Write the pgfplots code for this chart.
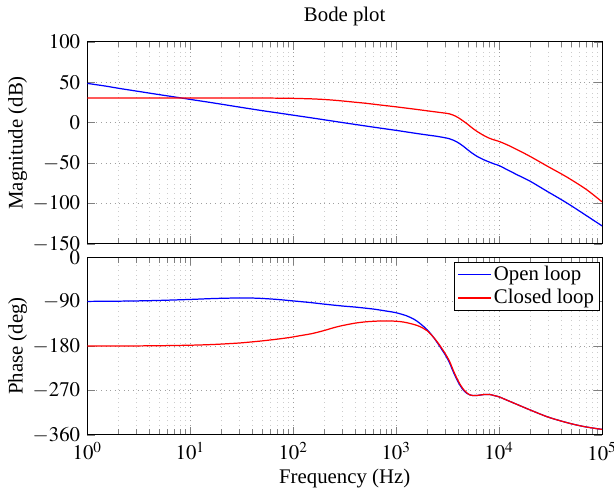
\documentclass[11pt,border=0pt]{standalone}
\usepackage{mathptmx}
\usepackage{fontspec}
\setmainfont{Liberation Serif}
\usepackage{pgfplots}
\pgfplotsset{compat=1.18}
\usetikzlibrary{calc}

\begin{document}
\begin{tikzpicture}
% magnitude
\begin{axis}[name=mag, scale only axis, width=271pt, height=106.4pt,
  xmode=log, xmin=1, xmax=1e5,
  grid=both, major grid style={dotted,gray!75}, minor grid style={dotted,gray!40},
  ymin=-150, ymax=100, ytick={-150,-100,...,100},
  xticklabels={},
  ylabel={Magnitude (dB)}, ylabel shift=-4.5pt,
  title={Bode plot}, title style={yshift=-1.5pt}]
\addplot[blue, line width=0.65pt, smooth] coordinates {
(1,48.5)(1.5,45.2)(2,42.5)(3,39)(5,34.6)(7,31.8)(10,28.7)(15,25.3)(20,22.8)
(30,19.2)(50,14.8)(70,12.1)(100,9.2)(150,5.9)(200,3.5)(300,0.1)(500,-4.1)(700,-6.8)
(1000,-9.6)(1500,-13)(2000,-15.3)(2500,-17)(3000,-18.8)(3300,-20)(3600,-21.8)
(4000,-24.8)(4500,-29.3)(5000,-34)(5500,-38)(6000,-41.2)(7000,-45.6)(8000,-48.7)
(9000,-51.2)(10000,-53.2)(12000,-58.3)(15000,-64.6)(20000,-72.5)(30000,-85.8)
(40000,-95.1)(50000,-102.7)(70000,-114.8)(100000,-127.8)};
\addplot[red, line width=0.65pt, smooth] coordinates {
(1,30.5)(10,30.5)(30,30.5)(50,30.4)(80,30.2)(100,30)(150,29.4)(200,28.6)(250,27.7)
(300,26.8)(400,25.2)(500,24)(700,21.8)(1000,19.5)(1500,16.7)(2000,14.6)(2500,13)
(3000,11.7)(3300,10.8)(3600,9.2)(4000,6.2)(4500,1.8)(5000,-2.5)(5500,-6.8)
(6000,-10.3)(7000,-15.5)(8000,-19.2)(9000,-21.5)(10000,-23.3)(12000,-27.5)
(15000,-33.5)(20000,-41.8)(30000,-54.5)(45000,-67)(70000,-82.5)(100000,-98)};
\end{axis}
% phase
\begin{axis}[name=ph, at={($(mag.south west)+(0,-7.06pt)$)}, anchor=north west,
  scale only axis, width=271pt, height=93.5pt,
  xmode=log, xmin=1, xmax=1e5,
  grid=both, major grid style={dotted,gray!75}, minor grid style={dotted,gray!40},
  ymin=-360, ymax=0, ytick={-360,-270,-180,-90,0},
  xlabel={Frequency (Hz)}, xlabel shift=-3pt,
  ylabel={Phase (deg)}, ylabel shift=-4.5pt,
  legend style={at={(0.996,0.975)}, anchor=north east, draw=black, fill=white,
    inner xsep=1.5pt, inner ysep=0.5pt, nodes={inner sep=1.5pt}},
  legend cell align=left]
\addplot[blue, line width=0.65pt, smooth] coordinates {
(1,-89.5)(2,-89)(3,-88.5)(5,-87.5)(10,-85.5)(15,-84)(20,-83.2)(30,-82.5)(40,-82.7)
(50,-83.5)(70,-85.5)(100,-88.5)(150,-92)(200,-95)(300,-98.8)(400,-101)(600,-105)
(800,-109)(1000,-112.5)(1260,-118.6)(1500,-126)(1700,-134)(2000,-147)(2300,-162)
(2600,-178)(3000,-198)(3300,-214)(3600,-233)(4000,-253)(4400,-267)(4800,-275)
(5200,-279)(5600,-280.5)(6200,-280)(7000,-278.5)(8000,-278)(9000,-280.5)
(10000,-283)(12000,-290)(16000,-301)(20000,-309.5)(29000,-323)(40000,-332)
(52500,-338.5)(70000,-344)(100000,-349)};
\addlegendentry{Open loop}
\addplot[red, line width=0.65pt, smooth] coordinates {
(1,-180)(3,-179.7)(5,-179.3)(10,-178.3)(15,-177.2)(20,-176)(30,-173.8)(40,-171.5)
(50,-169.5)(70,-166)(93,-162.5)(120,-158.5)(150,-155)(196,-149)(250,-142.5)
(300,-138.5)(400,-133.5)(500,-131)(600,-129.8)(750,-129)(900,-129.2)(1100,-130.5)
(1260,-132.5)(1500,-136.5)(1700,-140.5)(2000,-149)(2300,-162)(2600,-176)
(3000,-195.5)(3300,-211)(3600,-230)(4000,-250.5)(4400,-265)(4800,-274)
(5200,-279)(5600,-280.5)(6200,-280)(7000,-278.5)(8000,-278)(9000,-280.5)
(10000,-283)(12000,-290)(16000,-301)(20000,-309.5)(29000,-323)(40000,-332)
(52500,-338.5)(70000,-344)(100000,-349)};
\addlegendentry{Closed loop}
\end{axis}
\pgfresetboundingbox
\path ($(mag.north west)+(-46pt,22pt)$) rectangle ($(ph.south east)+(6.3pt,-28.3pt)$);
\end{tikzpicture}
\end{document}
